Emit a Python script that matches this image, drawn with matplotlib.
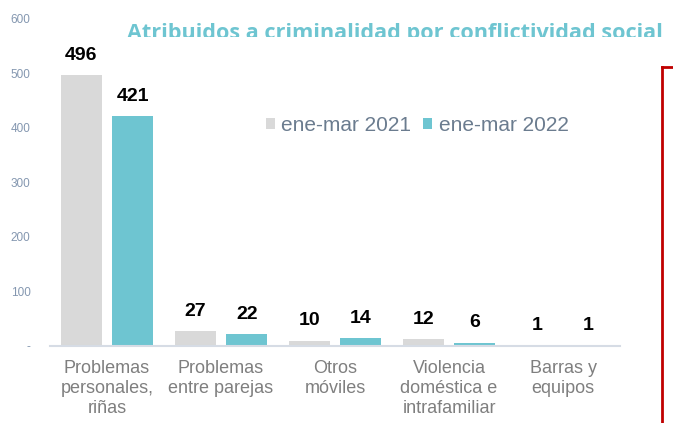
import matplotlib.pyplot as plt
import numpy as np
from matplotlib.lines import Line2D
from matplotlib.transforms import Bbox

categories = ["Problemas\npersonales,\nriñas", "Problemas\nentre parejas", "Otros\nmóviles",
              "Violencia\ndoméstica e\nintrafamiliar", "Barras y\nequipos"]
v2021 = [496, 27, 10, 12, 1]
v2022 = [421, 22, 14, 6, 1]
series = ["ene-mar 2021", "ene-mar 2022"]
yticks = [0, 100, 200, 300, 400, 500, 600]
ytick_labels = ["-", "100", "200", "300", "400", "500", "600"]

c2021 = "#D9D9D9"
c2022 = "#6EC5D1"

W, H = 673, 423
fig = plt.figure(figsize=(W / 100, H / 100), dpi=100)
ax = fig.add_axes([50 / W, 1 - 346 / H, 570 / W, (346 - 18.6) / H])

x = np.arange(len(categories))
bw = 0.36
off = 0.225
b1 = ax.bar(x - off, v2021, bw, color=c2021, label=series[0])
b2 = ax.bar(x + off, v2022, bw, color=c2022, label=series[1])

for bars in (b1, b2):
    for r in bars:
        ax.text(r.get_x() + r.get_width() / 2, r.get_height() + 21, str(int(r.get_height())),
                ha="center", va="bottom", fontsize=14, fontweight="bold",
                family="Liberation Sans", color="black")

ax.set_xlim(-0.5, len(categories) - 0.5)
ax.set_ylim(0, 600)
ax.set_yticks(yticks)
ax.set_yticklabels(ytick_labels, fontsize=8.5, color="#8497B0", family="Liberation Sans")
ax.set_xticks(x)
ax.set_xticklabels(categories, fontsize=13, color="#7F7F7F", family="Liberation Sans",
                   linespacing=1.23, va="top")
ax.tick_params(axis="both", length=0)
ax.tick_params(axis="x", pad=10)
ax.tick_params(axis="y", pad=14)
for s in ["top", "right", "left"]:
    ax.spines[s].set_visible(False)
ax.spines["bottom"].set_color("#D6DCE5")
ax.spines["bottom"].set_linewidth(1.5)

leg = ax.legend(loc="upper left", bbox_to_anchor=(197 / 570, (346 - 97) / (346 - 18.6)),
                ncol=2, frameon=False, handlelength=0.43, handleheight=0.43,
                handletextpad=0.3, columnspacing=0.6,
                prop={"family": "Liberation Sans", "size": 15})
for t in leg.get_texts():
    t.set_color("#6B7C8F")

title = fig.text(127 / W, 1 - 33 / H, "Atribuidos a criminalidad por conflictividad social",
                 ha="left", va="center", fontsize=15.6, fontweight="bold",
                 family="Open Sans", color="#6EC5D1")
title.set_clip_box(Bbox.from_extents(0, H - 37, W, H))
title.set_clip_on(True)

red = "#C00000"
fig.add_artist(Line2D([662 / W, 662 / W], [0, 1 - 67 / H], color=red, lw=2))
fig.add_artist(Line2D([662 / W, 1], [1 - 67 / H, 1 - 67 / H], color=red, lw=2))

fig.savefig("out.png", dpi=100)
